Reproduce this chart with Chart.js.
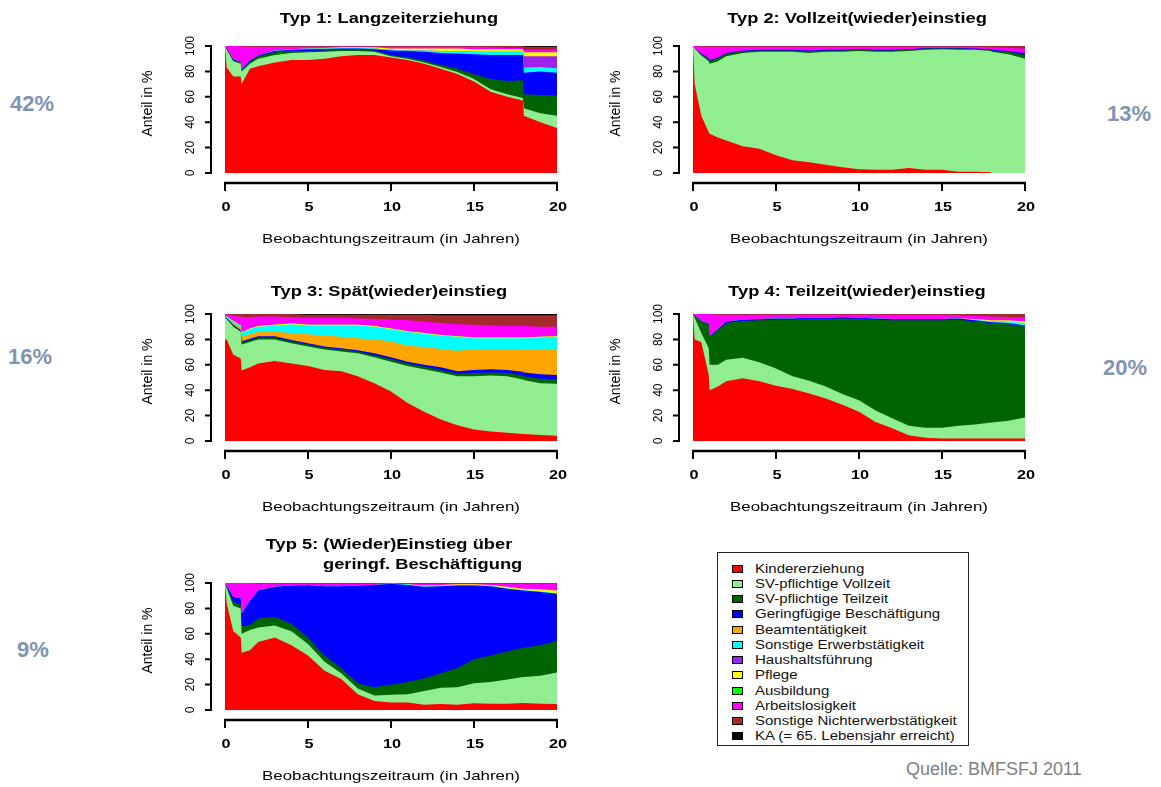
<!DOCTYPE html>
<html lang="de">
<head>
<meta charset="UTF-8">
<title>Verlaufstypen Erwerbsbiografie</title>
<script src="https://cdn.jsdelivr.net/npm/chart.js@4.4.1/dist/chart.umd.min.js"></script>
<style>
  body { margin: 0; background: #fff; font-family: "Liberation Sans", Arial, sans-serif; }
  #page { position: relative; width: 1161px; height: 787px; overflow: hidden; }
  #page canvas { position: absolute; }
  .pct { position: absolute; font-weight: bold; font-size: 22px; line-height: 24px; color: #7f94b3; }
  #legend { position: absolute; left: 717px; top: 552px; width: 250px; height: 192px; border: 1px solid #222; }
  #legend .sq { position: absolute; left: 14px; width: 9px; height: 6px; border: 1px solid #000; }
  #legend .tx { position: absolute; left: 37px; font-size: 12px; line-height: 14px; color: #111;
                white-space: nowrap; transform: scaleX(1.25); transform-origin: left center; }
  #quelle { position: absolute; left: 906px; top: 759px; font-size: 18px; color: #808080; }
</style>
</head>
<body>
<div id="page">
  <canvas id="c1" width="452" height="257"></canvas>
  <canvas id="c2" width="452" height="257"></canvas>
  <canvas id="c3" width="452" height="257"></canvas>
  <canvas id="c4" width="452" height="257"></canvas>
  <canvas id="c5" width="452" height="257"></canvas>

  <div class="pct" style="left:10px; top:92px;">42%</div>
  <div class="pct" style="left:1107px; top:102px;">13%</div>
  <div class="pct" style="left:8px; top:345px;">16%</div>
  <div class="pct" style="left:1103px; top:356px;">20%</div>
  <div class="pct" style="left:17px; top:638px;">9%</div>

  <div id="legend"></div>
  <div id="quelle">Quelle: BMFSFJ 2011</div>
</div>

<script>
// Beobachtungszeitpunkte (Jahre)
var JAHRE = [0, 0.1, 0.5, 0.95, 1, 1.5, 2, 3, 4, 5, 6, 7, 8, 9, 10, 11, 12, 13, 14, 15, 16, 17, 17.95, 18, 19, 20];

var ZUSTAENDE = ['Kindererziehung', 'SV-pflichtige Vollzeit', 'SV-pflichtige Teilzeit',
  'Geringfügige Beschäftigung', 'Beamtentätigkeit', 'Sonstige Erwerbstätigkeit',
  'Haushaltsführung', 'Pflege', 'Ausbildung', 'Arbeitslosigkeit',
  'Sonstige Nichterwerbstätigkeit', 'KA (= 65. Lebensjahr erreicht)'];

var FARBEN = ['#ff0000', '#90ee90', '#006400', '#0000ff', '#ffa500', '#00ffff',
  '#a020f0', '#ffff00', '#00ff00', '#ff00ff', '#a52a2a', '#000000'];

var X_TICKS = [0, 5, 10, 15, 20];
var Y_TICKS = [0, 20, 40, 60, 80, 100];

// Typ 1: Langzeiterziehung (Anteile in %)
var t1_kind = [100, 83, 76, 76, 70, 82, 84, 87, 89, 89, 90, 92, 93, 93, 91, 89, 86, 82, 78, 72, 64, 60, 57, 45, 40, 35.5];
var t1_vz   = [0, 14, 12, 10, 10, 4, 6, 6, 5.5, 6, 5.5, 4, 3, 2.5, 1, 1, 1, 1.5, 1.5, 2, 2, 2, 2, 6, 7, 9.5];
var t1_tz   = [0, 1, 1, 1, 1, 2, 2, 2, 1.5, 1, 1, 1, 1, 1, 1, 1, 1.5, 1.5, 2.5, 4, 8, 10.5, 14, 11, 14.5, 16];
var t1_gb   = [0, 0, 0.5, 0.5, 0.5, 0.5, 0.5, 1, 1, 1.5, 1, 1, 1, 1, 3.5, 5, 7, 9.5, 12, 15.5, 19, 20.5, 20, 17, 18.5, 18];
var t1_se   = [0, 0, 0, 0, 0, 0, 0, 0.5, 0.5, 0.5, 0.5, 0.5, 0.5, 0.5, 0.5, 0.5, 1, 1.5, 2, 2, 2.5, 2.5, 2.5, 4, 3.5, 3.5];
var t1_hh   = [0, 0, 0, 0, 0, 0, 0, 0, 0, 0, 0, 0, 0, 0, 0, 0, 0, 0, 0, 0, 0, 0, 0, 9, 8.5, 9.5];
var t1_pf   = [0, 0, 0, 0, 0, 0, 0, 0, 0, 0, 0.5, 0.5, 0.5, 1, 1, 1.5, 1.5, 2, 2, 2, 2, 2, 2, 3, 3, 3];
var t1_al   = [0, 2, 10.5, 12.5, 18, 11, 7, 3, 2, 1.5, 1, 0.5, 0.5, 0.5, 1.5, 1.5, 1.5, 1.5, 1.5, 2, 1.5, 1, 1, 2, 2, 2];
var t1_sn   = [0, 0, 0, 0, 0.5, 0.5, 0.5, 0.5, 0.5, 0.5, 0.5, 0.5, 0.5, 0.5, 0.5, 0.5, 0.5, 0.5, 0.5, 0.5, 1, 1.5, 1.5, 2.5, 2.5, 2.5];
var t1_ka   = [0, 0, 0, 0, 0, 0, 0, 0, 0, 0, 0, 0, 0, 0, 0, 0, 0, 0, 0, 0, 0, 0, 0, 0.5, 0.5, 0.5];

// Typ 2: Vollzeit(wieder)einstieg
var t2_kind = [100, 70, 45, 32, 31, 28, 25.5, 21, 19, 14, 10, 8.5, 6.5, 4.5, 3, 2.5, 2.5, 4, 2.5, 2.5, 1, 1, 0.5, 0, 0, 0];
var t2_vz   = [0, 28, 47.5, 56, 55, 60, 66.5, 73.5, 76.5, 81.5, 85.5, 86, 89, 91, 93, 93, 93, 92, 94.5, 95, 96, 96, 95.5, 95.5, 93.5, 90];
var t2_tz   = [0, 0, 1, 2, 2, 2.5, 2, 1.5, 1, 1, 1, 1.5, 1, 1, 1, 1, 1, 1, 1, 0.5, 1, 0.5, 1, 1, 2, 3];
var t2_gb   = [0, 0, 0.5, 0.5, 1, 0.5, 0.5, 0.5, 0.5, 0.5, 0.5, 0.5, 0.5, 0.5, 0.5, 0.5, 0.5, 0.5, 0.5, 0.5, 0.5, 0.5, 0.5, 0.5, 0.5, 1.5];
var t2_al   = [0, 2, 5.5, 9, 10.5, 8.5, 5, 3, 2.5, 2.5, 2.5, 3, 2.5, 2.5, 2, 2.5, 2.5, 2, 1, 1, 1, 1.5, 1.5, 2, 2.5, 3.5];
var t2_sn   = [0, 0, 0.5, 0.5, 0.5, 0.5, 0.5, 0.5, 0.5, 0.5, 0.5, 0.5, 0.5, 0.5, 0.5, 0.5, 0.5, 0.5, 0.5, 0.5, 0.5, 0.5, 1, 1, 1.5, 2];

// Typ 3: Spät(wieder)einstieg
var t3_kind = [80, 80, 68, 65, 55.5, 58, 61, 63, 61, 59, 56, 55, 51, 45.5, 39, 30, 23, 17, 12.5, 9, 7.5, 6.5, 5.5, 5.5, 4.7, 4.2];
var t3_vz   = [17, 16, 22, 21, 20.5, 20, 19, 17, 16, 15.5, 16, 15.5, 18, 20.5, 23.5, 29, 33.5, 37, 38.5, 42, 44, 44.5, 43, 42.5, 40.8, 40.8];
var t3_tz   = [0, 0.5, 1, 1, 1.5, 1.5, 1.5, 1.5, 1.5, 1.5, 1.5, 1.5, 1.5, 1.5, 2, 2, 2, 2, 2, 2.5, 2.5, 2.5, 3, 3, 3.5, 3.5];
var t3_gb   = [0, 0.5, 0.5, 0.5, 1, 1, 1, 1, 1, 1, 1, 1, 1, 1.5, 1.5, 1.5, 1.5, 2, 2, 2.5, 2.5, 2.5, 3, 3, 3.5, 3.5];
var t3_be   = [0, 0.5, 1.5, 1.5, 3.5, 3.5, 3.5, 3.5, 5.5, 7, 8.5, 9, 9.5, 11, 12.5, 12.5, 14, 14.5, 16, 16, 15.5, 16, 17.5, 18, 19.5, 20];
var t3_se   = [0, 0.5, 1, 1.5, 3, 4, 4, 5, 7, 7, 8, 9, 10, 10, 9.5, 11, 10.5, 10.5, 11, 9, 9, 9, 9, 9, 9.5, 10];
var t3_pf   = [0, 0, 0.5, 0.5, 0.5, 0.5, 0.5, 0.5, 0.5, 0.5, 0.5, 0.5, 0.5, 0.5, 0.5, 0.5, 0.5, 0.5, 0.5, 0.5, 0.5, 0.5, 0.5, 0.5, 0.5, 0.5];
var t3_ab   = [1.5, 0.5, 0, 0, 0, 0, 0, 0, 0, 0, 0, 0, 0, 0, 0, 0, 0, 0, 0, 0, 0, 0, 0, 0, 0, 0];
var t3_al   = [1, 1.5, 4, 7, 12, 9, 7.5, 6.5, 5, 5.5, 5.5, 5.5, 5, 5.5, 7, 8.5, 9, 9.5, 9.5, 10, 9.5, 9, 9, 9, 8, 7.5];
var t3_sn   = [0.5, 0, 1.5, 2, 2.5, 2.5, 2, 2, 2.5, 2.5, 2.5, 2.5, 3, 3.5, 4, 4.5, 5.5, 6, 7, 7.5, 8, 8.5, 8.5, 8.5, 9, 9];
var t3_ka   = [0, 0, 0, 0, 0, 0, 0, 0, 0, 0.5, 0.5, 0.5, 0.5, 0.5, 0.5, 0.5, 0.5, 1, 1, 1, 1, 1, 1, 1, 1, 1];

// Typ 4: Teilzeit(wieder)einstieg
var t4_kind = [100, 80, 78, 52, 40, 43, 47, 49.5, 47, 43.5, 41, 37.5, 33.5, 28.5, 23, 15, 10, 4.5, 2.5, 2, 2, 2, 2, 2, 2, 2];
var t4_vz   = [0, 17, 7, 21, 20, 17, 17, 16, 15, 13.5, 10, 10, 9.5, 8.5, 9, 9, 8, 7.5, 8, 8.5, 10, 11, 12.5, 12.5, 14, 16.5];
var t4_tz   = [0, 2, 9, 19, 22, 27, 29, 29, 33, 38.5, 44.5, 48.5, 53, 59.5, 64, 71.5, 77, 83, 84.5, 84.5, 83.5, 81, 78, 78, 76, 71.5];
var t4_gb   = [0, 0, 0.5, 0.5, 0.5, 1, 1, 1, 1, 1, 1, 1, 1, 1, 1, 1, 1, 1, 1, 1, 1, 1, 1, 1, 1, 1];
var t4_se   = [0, 0, 0, 0, 0, 0, 0, 0, 0, 0, 0, 0, 0, 0, 0, 0, 0, 0, 0, 0, 0, 0.5, 1, 1, 1, 2];
var t4_pf   = [0, 0, 0, 0, 0, 0, 0, 0, 0, 0, 0, 0, 0, 0, 0, 0, 0, 0, 0, 0, 0, 0.5, 0.5, 0.5, 1, 1];
var t4_al   = [0, 1, 5.5, 7.5, 17.5, 11.5, 5.5, 4, 3.5, 3, 3, 2.5, 2.5, 2, 2.5, 3, 3.5, 3.5, 3.5, 3.5, 2.5, 2.5, 3, 3, 2.5, 3.5];
var t4_sn   = [0, 0, 0, 0, 0, 0.5, 0.5, 0.5, 0.5, 0.5, 0.5, 0.5, 0.5, 0.5, 0.5, 0.5, 0.5, 0.5, 0.5, 0.5, 1, 1.5, 2, 2, 2.5, 2.5];

// Typ 5: (Wieder)Einstieg über geringf. Beschäftigung
var t5_kind = [100, 84, 62, 57, 45, 47, 53.5, 57, 51, 43, 31, 24.5, 12.5, 7, 6, 6, 4.2, 4.7, 4.2, 5.3, 5, 5, 5.5, 5.5, 5, 4.7];
var t5_vz   = [0, 12, 20, 23, 15, 16, 11.5, 9.5, 11, 9, 7, 4.5, 4.5, 4.5, 6, 6.5, 10.8, 12.8, 13.8, 15.7, 17, 19, 20.5, 20.5, 22, 24.8];
var t5_tz   = [0, 1, 3, 3, 6, 4, 7, 7, 6, 5, 5, 4, 4, 6.5, 8, 9.5, 10, 11.5, 15, 19, 21, 22, 23, 23, 24, 25];
var t5_gb   = [0, 1, 4, 5, 10, 19, 22, 23.5, 30, 41.5, 54.5, 64.5, 77, 80.5, 79.5, 76.5, 72, 68.5, 65, 58, 54.5, 49.5, 45, 45, 42, 37];
var t5_se   = [0, 0, 0, 0, 0, 0, 0, 0, 0, 0, 0, 0, 0, 0, 0, 0.5, 0.5, 0.5, 0.5, 0.5, 0.5, 0.5, 0.5, 0.5, 0.5, 0.5];
var t5_pf   = [0, 0, 0, 0, 0, 0, 0, 0, 0, 0, 0, 0, 0, 0, 0, 0, 0.5, 0.5, 0.5, 0.5, 0.5, 1, 1, 1, 1.5, 2];
var t5_al   = [0, 2, 11, 12, 24, 14, 5.5, 2.5, 1.5, 1, 2, 2, 1.5, 1, 0.5, 0.5, 1.5, 1, 0.5, 0.5, 1, 2.5, 4, 4, 4.5, 5.5];
var t5_sn   = [0, 0, 0, 0, 0, 0, 0.5, 0.5, 0.5, 0.5, 0.5, 0.5, 0.5, 0.5, 0, 0.5, 0.5, 0.5, 0.5, 0.5, 0.5, 0.5, 0.5, 0.5, 0.5, 0.5];

// [Zustand-Index, Werte] in Stapelreihenfolge von unten
var typ1 = [[0, t1_kind], [1, t1_vz], [2, t1_tz], [3, t1_gb], [5, t1_se], [6, t1_hh], [7, t1_pf], [9, t1_al], [10, t1_sn], [11, t1_ka]];
var typ2 = [[0, t2_kind], [1, t2_vz], [2, t2_tz], [3, t2_gb], [9, t2_al], [10, t2_sn]];
var typ3 = [[0, t3_kind], [1, t3_vz], [2, t3_tz], [3, t3_gb], [4, t3_be], [5, t3_se], [7, t3_pf], [8, t3_ab], [9, t3_al], [10, t3_sn], [11, t3_ka]];
var typ4 = [[0, t4_kind], [1, t4_vz], [2, t4_tz], [3, t4_gb], [5, t4_se], [7, t4_pf], [9, t4_al], [10, t4_sn]];
var typ5 = [[0, t5_kind], [1, t5_vz], [2, t5_tz], [3, t5_gb], [5, t5_se], [7, t5_pf], [9, t5_al], [10, t5_sn]];

var FONT = '"Liberation Sans", Arial, sans-serif';

// plot area placement on the page (layout only)
var panels = [
  { id: 'c1', reihen: typ1, left: 225, top: 46, titel: [['Typ 1: Langzeiterziehung', 'c', -27]] },
  { id: 'c2', reihen: typ2, left: 693, top: 46, titel: [['Typ 2: Vollzeit(wieder)einstieg', 'c', -27]] },
  { id: 'c3', reihen: typ3, left: 225, top: 314, titel: [['Typ 3: Spät(wieder)einstieg', 'c', -22.5]] },
  { id: 'c4', reihen: typ4, left: 693, top: 314, titel: [['Typ 4: Teilzeit(wieder)einstieg', 'c', -22.5]] },
  { id: 'c5', reihen: typ5, left: 225, top: 583, titel: [['Typ 5: (Wieder)Einstieg über', 'c', -38], ['geringf. Beschäftigung', 98, -18]] }
];
var PAD = { left: 100, top: 46, right: 20, bottom: 84 };

function schrift(ctx, s, x, y, font, align, sx, rot) {
  ctx.save();
  ctx.translate(x, y);
  if (rot) ctx.rotate(rot);
  ctx.scale(sx || 1, 1);
  ctx.font = font;
  ctx.textAlign = align || 'center';
  ctx.textBaseline = 'middle';
  ctx.fillText(s, 0, 0);
  ctx.restore();
}

// R-artige Achsen, abgesetzt vom Plotbereich
var rAchsen = {
  id: 'rAchsen',
  afterDraw: function (chart) {
    var ctx = chart.ctx, xs = chart.scales.x, ys = chart.scales.y, a = chart.chartArea;
    var titel = chart.options.plugins.rAchsen.titel;
    ctx.save();
    ctx.strokeStyle = '#000';
    ctx.fillStyle = '#000';
    ctx.lineWidth = 2;
    ctx.lineCap = 'butt';

    // y axis
    var ax = a.left - 14;
    ctx.beginPath();
    ctx.moveTo(ax, ys.getPixelForValue(0) + 1);
    ctx.lineTo(ax, ys.getPixelForValue(100) - 1);
    Y_TICKS.forEach(function (v) {
      var py = ys.getPixelForValue(v);
      ctx.moveTo(ax + 1, py);
      ctx.lineTo(ax - 6, py);
    });
    ctx.stroke();
    Y_TICKS.forEach(function (v) {
      schrift(ctx, String(v), a.left - 34, ys.getPixelForValue(v), '12px ' + FONT, 'center', 1, -Math.PI / 2);
    });

    // x axis
    var ay = a.bottom + 10;
    ctx.lineWidth = 2.5;
    ctx.beginPath();
    ctx.moveTo(xs.getPixelForValue(0) - 1, ay);
    ctx.lineTo(xs.getPixelForValue(20) + 1, ay);
    ctx.stroke();
    ctx.lineWidth = 2;
    ctx.beginPath();
    X_TICKS.forEach(function (v) {
      var px = xs.getPixelForValue(v);
      ctx.moveTo(px, ay);
      ctx.lineTo(px, ay + 8);
    });
    ctx.stroke();
    X_TICKS.forEach(function (v) {
      schrift(ctx, String(v), xs.getPixelForValue(v) + 1, a.bottom + 34, 'bold 13px ' + FONT, 'center', 1.25);
    });

    // axis titles
    var mx = (a.left + a.right) / 2;
    schrift(ctx, 'Beobachtungszeitraum (in Jahren)', mx, a.bottom + 66, '13.5px ' + FONT, 'center', 1.25);
    schrift(ctx, 'Anteil in %', a.left - 77, (a.top + a.bottom) / 2 - 6, '14px ' + FONT, 'center', 1, -Math.PI / 2);

    // main title
    titel.forEach(function (t) {
      if (t[1] === 'c') {
        schrift(ctx, t[0], mx - 2, a.top + t[2], 'bold 15px ' + FONT, 'center', 1.22);
      } else {
        schrift(ctx, t[0], a.left + t[1], a.top + t[2], 'bold 15px ' + FONT, 'left', 1.22);
      }
    });
    ctx.restore();
  }
};

panels.forEach(function (p) {
  var cv = document.getElementById(p.id);
  cv.style.left = (p.left - PAD.left) + 'px';
  cv.style.top = (p.top - PAD.top) + 'px';

  var datasets = p.reihen.map(function (r) {
    var k = r[0], werte = r[1];
    return {
      label: ZUSTAENDE[k],
      data: JAHRE.map(function (j, n) { return { x: j, y: werte[n] }; }),
      backgroundColor: FARBEN[k],
      borderColor: 'rgba(0,0,0,0)',
      borderWidth: 0,
      pointRadius: 0,
      pointHoverRadius: 0,
      tension: 0,
      fill: 'origin'
    };
  });

  new Chart(cv.getContext('2d'), {
    type: 'line',
    data: { datasets: datasets },
    options: {
      responsive: false,
      animation: false,
      devicePixelRatio: 1,
      events: [],
      layout: { padding: PAD },
      scales: {
        x: { type: 'linear', min: 0, max: 20, display: false },
        y: { stacked: true, min: 0, max: 100, display: false }
      },
      plugins: {
        legend: { display: false },
        tooltip: { enabled: false },
        rAchsen: { titel: p.titel }
      }
    },
    plugins: [rAchsen]
  });
});

// Legende
var leg = document.getElementById('legend');
ZUSTAENDE.forEach(function (name, i) {
  var cy = 15.5 + i * 15.25;
  var sq = document.createElement('div');
  sq.className = 'sq';
  sq.style.top = (cy - 4) + 'px';
  sq.style.background = FARBEN[i];
  leg.appendChild(sq);
  var tx = document.createElement('div');
  tx.className = 'tx';
  tx.style.top = (cy - 7) + 'px';
  tx.textContent = name;
  leg.appendChild(tx);
});
</script>
</body>
</html>
